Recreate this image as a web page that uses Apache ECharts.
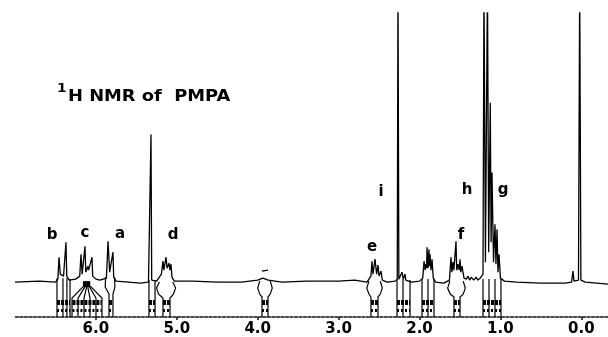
<!DOCTYPE html>
<html><head><meta charset="utf-8">
<script src="https://cdn.jsdelivr.net/npm/echarts@6/dist/echarts.min.js"></script>
<style>html,body{margin:0;padding:0;background:#fff}#c{width:608px;height:337px}</style>
</head><body><div id="c"></div>
<script>
// chemical shift ticks (ppm)
const ppmTicks = [0, 1, 2, 3, 4, 5, 6];

// 1H spectrum: [ppm, intensity]
const spectrum = [
  [7.0,0],[6.7,1],[6.5,0],
  [6.47,3],[6.456,25],[6.44,8],[6.40,6],[6.370,40],[6.36,6],[6.33,2],
  [6.25,3],[6.20,6],[6.184,28],[6.17,8],[6.135,36],[6.125,10],[6.115,12],[6.098,16],[6.09,12],[6.07,10],[6.048,25],[6.04,6],[6.0,3],[5.95,2],
  [5.87,4],[5.850,41],[5.83,10],[5.81,8],[5.789,30],[5.78,5],[5.75,1],
  [5.6,0],[5.45,-1],[5.35,0],
  [5.33,2],[5.319,148],[5.31,2],
  [5.25,1],[5.19,8],[5.171,21],[5.16,12],[5.133,25],[5.12,14],[5.096,19],[5.085,12],[5.072,18],[5.06,5],[5.03,1],
  [4.8,1],[4.5,0],[4.2,0],[4.0,2],
  [3.935,4],[3.87,2],[3.7,0],[3.4,1],[3.0,1],[2.8,2],[2.65,0],
  [2.60,6],[2.587,21],[2.575,8],[2.550,23],[2.53,8],[2.513,17],[2.50,6],[2.476,11],[2.46,2],[2.4,0],
  [2.3,1],[2.275,3],[2.266,300],[2.255,3],[2.216,10],[2.20,3],[2.179,8],[2.17,2],[2.1,0],[2.0,1],
  [1.96,4],[1.944,21],[1.93,12],[1.920,18],[1.912,14],[1.907,35],[1.895,14],[1.883,33],[1.877,16],[1.870,28],[1.858,12],[1.845,23],[1.83,4],[1.8,0],
  [1.7,-1],[1.63,2],[1.611,25],[1.60,10],[1.586,20],[1.575,12],[1.549,41],[1.54,12],[1.525,18],[1.51,12],[1.499,23],[1.49,10],[1.475,16],[1.45,4],
  [1.42,3],[1.40,6],[1.38,2],[1.36,5],[1.33,2],[1.30,5],[1.28,2],[1.25,4],[1.23,3],
  [1.215,8],[1.203,300],[1.185,20],[1.160,300],[1.145,30],[1.125,180],[1.115,40],[1.104,110],[1.085,20],[1.067,58],[1.055,18],[1.042,53],[1.03,10],[1.017,28],[1.0,4],
  [0.95,1],[0.8,0],[0.5,-1],[0.2,-1],[0.12,0],
  [0.103,11],[0.09,1],[0.035,2],[0.02,300],[0.005,2],[-0.05,0],[-0.33,-2]
];

// integral traces drawn under the peak groups: polylines of [ppm, intensity]
const integralTraces = [
  [[6.481,4],[6.481,-35]],[[6.407,4],[6.407,-35]],[[6.358,4],[6.358,-35]],[[6.320,3],[6.320,-35]],
  [[6.150,-4],[6.295,-16],[6.295,-35]],[[6.130,-4],[6.221,-16],[6.221,-35]],[[6.115,-5],[6.147,-16],[6.147,-35]],
  [[6.100,-5],[6.073,-16],[6.073,-35]],[[6.085,-4],[5.999,-16],[5.999,-35]],[[6.070,-4],[5.925,-16],[5.925,-35]],
  [[5.880,5],[5.885,-5],[5.838,-12],[5.838,-35]],[[5.770,5],[5.765,-5],[5.789,-12],[5.789,-35]],
  [[5.344,2],[5.344,-35]],[[5.269,2],[5.269,-35]],
  [[5.215,0],[5.250,-6],[5.225,-12],[5.171,-16],[5.171,-35]],[[5.05,0],[5.015,-6],[5.042,-12],[5.084,-16],[5.084,-35]],
  [[3.975,1],[4.000,-6],[3.975,-12],[3.947,-15],[3.947,-35]],[[3.845,1],[3.820,-6],[3.845,-12],[3.873,-15],[3.873,-35]],
  [[2.625,1],[2.652,-6],[2.625,-12],[2.600,-15],[2.600,-35]],[[2.485,1],[2.460,-6],[2.485,-12],[2.513,-15],[2.513,-35]],
  [[2.278,3],[2.278,-35]],[[2.204,3],[2.204,-35]],[[2.117,2],[2.117,-35]],
  [[1.969,3],[1.969,-35]],[[1.895,3],[1.895,-35]],[[1.821,3],[1.821,-35]],
  [[1.625,1],[1.652,-6],[1.62,-12],[1.574,-15],[1.574,-35]],[[1.46,1],[1.434,-6],[1.46,-12],[1.499,-15],[1.499,-35]],
  [[1.215,3],[1.215,-35]],[[1.141,3],[1.141,-35]],[[1.067,3],[1.067,-35]],[[0.993,3],[0.993,-35]],
  [[3.947,11],[3.873,12]]
];

// integral value print-outs (ppm ranges)
const integralBands = [
  [6.48,6.32],[6.29,5.93],[5.838,5.789],[5.344,5.269],[5.171,5.084],[3.947,3.873],
  [2.600,2.513],[2.278,2.117],[1.969,1.821],[1.574,1.499],[1.215,0.993]
];
const bandLevels = [-20, -28];

const blob = [[6.16,-2],[6.07,-2]];

const chart = echarts.init(document.getElementById('c'), null, {renderer:'canvas'});

const bandData = [];
bandLevels.forEach((lv, k) => integralBands.forEach(b => bandData.push({coords: [[b[0], lv], [b[1], lv]], lineStyle: {width: k === 0 ? 5 : 3, type: k === 0 ? [3, 1] : [2, 2]}})));

const txt = (t, x, y, size, sx) => ({
  type: 'text', x: x, y: y, scaleX: sx || 1,
  style: { text: t, x: 0, y: 0, fill: '#000', font: 'bold ' + size + 'px "DejaVu Sans"', textAlign: 'left', textVerticalAlign: 'middle' }
});
const ctxt = (t, x, y) => ({
  type: 'text', x: x, y: y,
  style: { text: t, x: 0, y: 0, fill: '#000', font: 'bold 15px "DejaVu Sans"', textAlign: 'center', textVerticalAlign: 'middle' }
});

chart.setOption({
  animation: false,
  backgroundColor: '#fff',
  grid: { left: 15, right: 0, top: 13, bottom: 19, containLabel: false },
  xAxis: {
    type: 'value', inverse: true, min: -0.33, max: 7.0,
    axisLine: { onZero: false, lineStyle: { color: '#111', width: 1.5, type: [3, 1.5] } },
    axisTick: { show: true, length: 3, customValues: ppmTicks, lineStyle: { color: '#111', width: 1.5 } },
    axisLabel: { customValues: ppmTicks, margin: 5, color: '#000', fontFamily: 'DejaVu Sans', fontWeight: 'bold', fontSize: 15,
      formatter: v => v.toFixed(1) },
    splitLine: { show: false }
  },
  yAxis: { type: 'value', min: -35, max: 270, show: false, splitLine: { show: false } },
  series: [
    { type: 'line', data: spectrum, showSymbol: false, symbol: 'none', clip: true,
      lineStyle: { color: '#000', width: 1.3 } },
    { type: 'lines', coordinateSystem: 'cartesian2d', polyline: true,
      data: integralTraces.map(c => ({ coords: c })),
      lineStyle: { color: '#000', width: 1.2, opacity: 1 } },
    { type: 'lines', coordinateSystem: 'cartesian2d', polyline: false,
      data: bandData,
      lineStyle: { color: '#000', opacity: 1 } },
    { type: 'lines', coordinateSystem: 'cartesian2d', polyline: true,
      data: [{ coords: blob }],
      lineStyle: { color: '#000', width: 6, opacity: 1 } }
  ],
  graphic: [
    txt('1', 57, 89, 12, 1.15),
    txt('H NMR of  PMPA', 68, 97.5, 15, 1.19),
    ctxt('b', 52, 235), ctxt('c', 85, 233), ctxt('a', 120, 234), ctxt('d', 173, 235),
    ctxt('e', 372, 247), ctxt('f', 461, 235), ctxt('i', 381, 192), ctxt('h', 467, 190), ctxt('g', 503, 190)
  ]
});
</script></body></html>
